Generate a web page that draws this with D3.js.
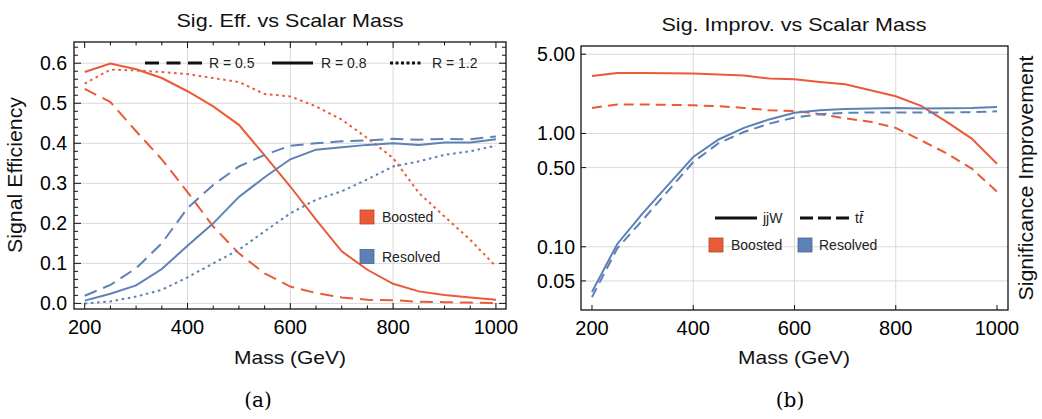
<!DOCTYPE html>
<html><head><meta charset="utf-8">
<script src="https://cdn.jsdelivr.net/npm/d3@7"></script>
<style>body{margin:0;background:#fff}svg{display:block}</style>
</head><body>
<svg id="c" width="1042" height="419"></svg>
<script>
const masses = [200,250,300,350,400,450,500,550,600,650,700,750,800,850,900,950,1000];
// Left: signal efficiency
const boostedR05 = [0.536,0.503,0.43,0.36,0.278,0.192,0.125,0.075,0.042,0.026,0.015,0.009,0.008,0.004,0.003,0.002,0.001];
const boostedR08 = [0.578,0.599,0.585,0.563,0.53,0.492,0.446,0.37,0.292,0.209,0.13,0.084,0.049,0.030,0.021,0.015,0.009];
const boostedR12 = [0.549,0.584,0.582,0.578,0.573,0.563,0.553,0.523,0.517,0.492,0.459,0.413,0.363,0.276,0.217,0.159,0.092];
const resolvedR05 = [0.019,0.046,0.088,0.150,0.238,0.296,0.342,0.371,0.394,0.400,0.405,0.407,0.411,0.409,0.411,0.410,0.417];
const resolvedR08 = [0.007,0.024,0.045,0.086,0.144,0.200,0.266,0.315,0.360,0.384,0.390,0.396,0.400,0.396,0.402,0.402,0.410];
const resolvedR12 = [0.000,0.005,0.017,0.034,0.065,0.100,0.134,0.180,0.225,0.259,0.280,0.310,0.342,0.355,0.371,0.380,0.394];
// Right: significance improvement
const boostedJjW = [3.22,3.42,3.42,3.40,3.38,3.31,3.24,3.05,3.01,2.85,2.72,2.41,2.13,1.75,1.27,0.90,0.54];
const boostedTt = [1.68,1.80,1.80,1.79,1.77,1.74,1.68,1.60,1.58,1.48,1.36,1.27,1.12,0.87,0.67,0.49,0.306];
const resolvedJjW = [0.040,0.106,0.197,0.35,0.62,0.885,1.12,1.33,1.52,1.60,1.64,1.66,1.68,1.66,1.67,1.68,1.71];
const resolvedTt = [0.036,0.097,0.172,0.31,0.56,0.82,1.03,1.22,1.38,1.48,1.52,1.53,1.53,1.53,1.53,1.54,1.57];

const leftYTicks = [0,0.1,0.2,0.3,0.4,0.5,0.6];
const xTicks = [200,400,600,800,1000];
const rightYTicks = [5,1,0.5,0.1,0.05];
const rightYLabels = ["5.00","1.00","0.50","0.10","0.05"];

const RED = "#EB5A37", BLUE = "#5E81B5";
const FONT = "Liberation Sans, Arial, sans-serif";
const svg = d3.select("#c");

function frame(g, x0, x1, y0, y1){
  g.append("rect").attr("x",x0).attr("y",y0).attr("width",x1-x0).attr("height",y1-y0)
   .attr("fill","none").attr("stroke","#111").attr("stroke-width",1.3);
}
function label(g, txt, x, y, size, len, rot){
  const t = g.append("text").attr("text-anchor","middle").attr("font-family",FONT).attr("font-size",size).attr("fill","#111");
  if (rot) t.attr("transform",`translate(${x},${y}) rotate(-90)`); else t.attr("x",x).attr("y",y);
  if (len) t.attr("textLength",len).attr("lengthAdjust","spacingAndGlyphs");
  t.text(txt);
  return t;
}

// ---------- LEFT ----------
const L = {x0:74,x1:506,y0:42,y1:309};
const xL = d3.scaleLinear().domain([179.2,1019.6]).range([L.x0,L.x1]);
const yL = d3.scaleLinear().domain([-0.014,0.653]).range([L.y1,L.y0]);
const gL = svg.append("g");
gL.selectAll(".gy").data(leftYTicks).join("line").attr("x1",L.x0).attr("x2",L.x1)
  .attr("y1",d=>yL(d)).attr("y2",d=>yL(d)).attr("stroke","#d9d9d9").attr("stroke-width",1);
gL.selectAll(".gx").data([400,600,800]).join("line").attr("y1",L.y0).attr("y2",L.y1)
  .attr("x1",d=>xL(d)).attr("x2",d=>xL(d)).attr("stroke","#d9d9d9").attr("stroke-width",1);
const xMin = d3.range(200,1001,50), yMin = d3.range(0,0.65,0.02);
xMin.forEach(v=>{
  const major = v%200===0, len = major?6:3.5;
  [[L.y1,-1],[L.y0,1]].forEach(([yy,s])=>gL.append("line").attr("x1",xL(v)).attr("x2",xL(v))
    .attr("y1",yy).attr("y2",yy+s*len).attr("stroke","#111").attr("stroke-width",1));
});
yMin.forEach(v=>{
  const major = Math.abs(v*10-Math.round(v*10))<1e-6, len = major?7:4;
  [[L.x0,1],[L.x1,-1]].forEach(([xx,s])=>gL.append("line").attr("y1",yL(v)).attr("y2",yL(v))
    .attr("x1",xx).attr("x2",xx+s*len).attr("stroke","#111").attr("stroke-width",1));
});
const lineL = d3.line().x((d,i)=>xL(masses[i])).y(d=>yL(d));
const DASH_L = "13,7", DOT = "2.6,3.6";
[[boostedR05,RED,DASH_L],[boostedR08,RED,null],[boostedR12,RED,DOT],
 [resolvedR05,BLUE,DASH_L],[resolvedR08,BLUE,null],[resolvedR12,BLUE,DOT]].forEach(([vals,col,dash])=>{
  gL.append("path").attr("d",lineL(vals)).attr("fill","none").attr("stroke",col)
    .attr("stroke-width",2).attr("stroke-dasharray",dash);
});
frame(gL,L.x0,L.x1,L.y0,L.y1);
gL.selectAll(".yl").data(leftYTicks).join("text").attr("x",L.x0-7).attr("y",d=>yL(d)+7)
  .attr("text-anchor","end").attr("font-family",FONT).attr("font-size",19.5).text(d=>d.toFixed(1));
gL.selectAll(".xl").data(xTicks).join("text").attr("x",d=>xL(d)).attr("y",L.y1+25)
  .attr("text-anchor","middle").attr("font-family",FONT).attr("font-size",20).text(d=>d);
const legL = [["R = 0.5","14,7.5",145,202,209],["R = 0.8",null,272,313,321],["R = 1.2","3,2.5",390,422,432]];
legL.forEach(([t,dash,a,b,tx])=>{
  gL.append("line").attr("x1",a).attr("x2",b).attr("y1",63).attr("y2",63).attr("stroke","#111")
    .attr("stroke-width",3).attr("stroke-dasharray",dash);
  gL.append("text").attr("x",tx).attr("y",68).attr("font-family",FONT).attr("font-size",14).attr("fill","#222").text(t);
});
[["Boosted",RED,210],["Resolved",BLUE,249.5]].forEach(([t,c,yy])=>{
  gL.append("rect").attr("x",360).attr("y",yy).attr("width",14).attr("height",14).attr("fill",c)
    .attr("stroke",d3.color(c).darker(0.7)).attr("stroke-width",0.8);
  gL.append("text").attr("x",382).attr("y",yy+12).attr("font-family",FONT).attr("font-size",14).attr("fill","#222").text(t);
});
label(gL,"Sig. Eff. vs Scalar Mass",290,27,19,227,false);
label(gL,"Mass (GeV)",290,364,19,112,false);
label(gL,"Signal Efficiency",22,175,19.5,156,true);

// ---------- RIGHT ----------
const R = {x0:581,x1:1008,y0:46,y1:310};
const xR = d3.scaleLinear().domain([178.3,1021.7]).range([R.x0,R.x1]);
const yR = d3.scaleLog().domain([0.0277,5.91]).range([R.y1,R.y0]);
const gR = svg.append("g");
gR.selectAll(".gy").data(rightYTicks).join("line").attr("x1",R.x0).attr("x2",R.x1)
  .attr("y1",d=>yR(d)).attr("y2",d=>yR(d)).attr("stroke","#d9d9d9").attr("stroke-width",1);
gR.selectAll(".gx").data([400,600,800]).join("line").attr("y1",R.y0).attr("y2",R.y1)
  .attr("x1",d=>xR(d)).attr("x2",d=>xR(d)).attr("stroke","#d9d9d9").attr("stroke-width",1);
xTicks.forEach(v=>gR.append("line").attr("x1",xR(v)).attr("x2",xR(v)).attr("y1",R.y1).attr("y2",R.y1-5).attr("stroke","#111"));
rightYTicks.forEach(v=>gR.append("line").attr("x1",R.x0).attr("x2",R.x0+5).attr("y1",yR(v)).attr("y2",yR(v)).attr("stroke","#111"));
const lineR = d3.line().x((d,i)=>xR(masses[i])).y(d=>yR(d));
const DASH_R = "10,6";
[[boostedJjW,RED,null],[boostedTt,RED,DASH_R],[resolvedJjW,BLUE,null],[resolvedTt,BLUE,DASH_R]].forEach(([vals,col,dash])=>{
  gR.append("path").attr("d",lineR(vals)).attr("fill","none").attr("stroke",col)
    .attr("stroke-width",2).attr("stroke-dasharray",dash);
});
frame(gR,R.x0,R.x1,R.y0,R.y1);
gR.selectAll(".yl").data(rightYTicks).join("text").attr("x",R.x0-6).attr("y",d=>yR(d)+7)
  .attr("text-anchor","end").attr("font-family",FONT).attr("font-size",19.5).text((d,i)=>rightYLabels[i]);
gR.selectAll(".xl").data(xTicks).join("text").attr("x",d=>xR(d)).attr("y",R.y1+25)
  .attr("text-anchor","middle").attr("font-family",FONT).attr("font-size",20).text(d=>d);
gR.append("line").attr("x1",715).attr("x2",757).attr("y1",218).attr("y2",218).attr("stroke","#111").attr("stroke-width",3);
gR.append("text").attr("x",763).attr("y",223).attr("font-family",FONT).attr("font-size",14).attr("fill","#222").text("jjW");
gR.append("line").attr("x1",800).attr("x2",849).attr("y1",218).attr("y2",218).attr("stroke","#111").attr("stroke-width",3).attr("stroke-dasharray","13,5");
const tt = gR.append("text").attr("x",855).attr("y",223).attr("font-family",FONT).attr("font-size",14).attr("fill","#222");
tt.append("tspan").text("t");
tt.append("tspan").attr("font-style","italic").text("t\u0304");
[["Boosted",RED,709,731],["Resolved",BLUE,798,819]].forEach(([t,c,bx,tx])=>{
  gR.append("rect").attr("x",bx).attr("y",238).attr("width",14).attr("height",14).attr("fill",c)
    .attr("stroke",d3.color(c).darker(0.7)).attr("stroke-width",0.8);
  gR.append("text").attr("x",tx).attr("y",250).attr("font-family",FONT).attr("font-size",14).attr("fill","#222").text(t);
});
label(gR,"Sig. Improv. vs Scalar Mass",794,31,19,265,false);
label(gR,"Mass (GeV)",794,364,19,112,false);
label(gR,"Significance Improvement",1033,178,19.5,245,true);

svg.append("text").attr("x",258).attr("y",407).attr("text-anchor","middle").attr("font-family","DejaVu Serif, Liberation Serif, serif").attr("font-size",20).text("(a)");
svg.append("text").attr("x",790).attr("y",407).attr("text-anchor","middle").attr("font-family","DejaVu Serif, Liberation Serif, serif").attr("font-size",20).text("(b)");
</script>
</body></html>
